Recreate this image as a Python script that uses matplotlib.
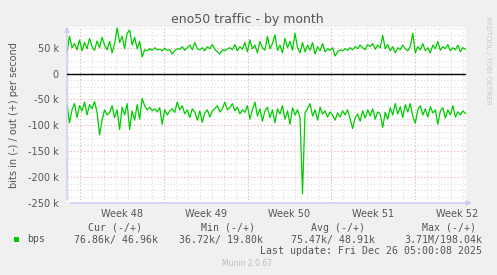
"""Munin style traffic graph: eno50 traffic - by month."""

import matplotlib

matplotlib.use("Agg")
import matplotlib.pyplot as plt
import numpy as np

OUT = "out.png"

# days relative to Monday of week 48
T_START, T_END = -1.09, 32.25

# out (+) in kbit/s, one sample every ~5 h
BPS_OUT = [
    42, 72, 50, 58, 46, 65, 44, 60, 48, 68, 52, 45, 63, 50, 70, 55, 46, 62, 40, 58,
    88, 60, 72, 48, 78, 84, 55, 70, 48, 62, 32, 46, 44, 48, 45, 50, 46, 47, 44, 49,
    45, 46, 38, 44, 48, 47, 52, 45, 50, 55, 46, 60, 48, 46, 50, 44, 52, 48, 56, 47,
    42, 38, 46, 44, 48, 50, 46, 56, 44, 52, 47, 60, 42, 65, 48, 55, 40, 62, 50, 45,
    72, 48, 58, 75, 45, 55, 40, 68, 50, 62, 45, 78, 50, 40, 60, 42, 55, 45, 60, 38,
    52, 44, 58, 42, 48, 45, 50, 34, 42, 46, 44, 48, 45, 50, 46, 52, 48, 55, 50, 46,
    56, 52, 58, 47, 55, 50, 74, 48, 56, 44, 52, 40, 50, 46, 55, 48, 44, 52, 78, 40,
    52, 46, 58, 44, 50, 40, 55, 48, 62, 45, 52, 48, 56, 44, 50, 46, 55, 42, 50, 47,
]

# in (-) in kbit/s
BPS_IN = [
    -60, -95, -70, -58, -85, -62, -72, -55, -80, -60, -68, -54, -75, -118, -90, -70,
    -80, -75, -62, -85, -70, -108, -65, -80, -58, -108, -72, -90, -60, -88, -48, -62,
    -70, -65, -72, -68, -74, -66, -98, -70, -80, -72, -68, -75, -55, -70, -62, -78,
    -70, -85, -68, -74, -90, -72, -94, -76, -70, -84, -72, -68, -62, -74, -68, -55,
    -70, -66, -58, -72, -65, -78, -70, -75, -62, -88, -70, -55, -82, -68, -92, -72,
    -65, -85, -70, -95, -68, -78, -62, -88, -72, -98, -66, -80, -70, -85, -232, -75,
    -68, -58, -82, -70, -90, -65, -78, -72, -84, -74, -80, -90, -76, -84, -72, -80,
    -70, -88, -106, -85, -78, -92, -72, -86, -70, -82, -68, -88, -74, -78, -104, -75,
    -88, -66, -80, -58, -78, -64, -85, -60, -74, -58, -82, -96, -70, -62, -80, -68,
    -84, -64, -76, -70, -98, -72, -66, -86, -70, -80, -62, -84, -74, -80, -72, -77,
]

WEEKS = ["Week 48", "Week 49", "Week 50", "Week 51", "Week 52"]
Y_TICKS = [50, 0, -50, -100, -150, -200, -250]
Y_LABELS = ["50 k", "0", "-50 k", "-100 k", "-150 k", "-200 k", "-250 k"]

GREEN = "#00CC00"
BG = "#F0F0F0"
TXT = "#555555"
AXIS = "#C8CCF2"
MINOR = "#DCDCDC"
MAJOR = "#E8A8A8"


def main():
    fig = plt.figure(figsize=(4.97, 2.75), dpi=100, facecolor=BG)
    W, H = 497.0, 275.0
    ax = fig.add_axes([67 / W, 1 - 203 / H, (466 - 67) / W, (203 - 27) / H])
    ax.set_facecolor("white")
    ax.set_xlim(T_START, T_END)
    ax.set_ylim(-250, 90)
    for s in ax.spines.values():
        s.set_visible(False)

    # grid
    for d in np.arange(-1, 33):
        major = d % 7 == 0
        ax.axvline(d, color=MAJOR if major else MINOR, lw=0.8,
                   ls=(0, (1, 2)), zorder=1)
    for v in np.arange(-237.5, 90, 12.5):
        major = v % 50 == 0
        ax.axhline(v, color=MAJOR if major else MINOR, lw=0.8,
                   ls=(0, (1, 2)), zorder=1)

    t = np.linspace(T_START, T_END - 0.05, len(BPS_OUT))
    ax.plot(t, BPS_OUT, color=GREEN, lw=0.9, zorder=3)
    ax.plot(t, BPS_IN, color=GREEN, lw=0.9, zorder=3)
    ax.axhline(0, color="black", lw=1.0, zorder=4)

    ax.set_xticks([3.5 + 7 * i for i in range(len(WEEKS))])
    ax.set_xticklabels(WEEKS)
    ax.set_yticks(Y_TICKS)
    ax.set_yticklabels(Y_LABELS)
    ax.tick_params(axis="both", length=0, labelsize=7, labelcolor=TXT, pad=4)
    ax.tick_params(axis="y", pad=6)

    # axis lines with arrows
    ax.annotate("", xy=(T_START, 96), xytext=(T_START, -250), xycoords="data",
                arrowprops=dict(arrowstyle="-|>", color=AXIS, lw=1.0,
                                mutation_scale=7), annotation_clip=False)
    ax.annotate("", xy=(T_END + 0.7, -250), xytext=(T_START, -250),
                xycoords="data",
                arrowprops=dict(arrowstyle="-|>", color=AXIS, lw=1.0,
                                mutation_scale=7), annotation_clip=False)

    ax.set_ylabel("bits in (-) / out (+) per second", fontsize=7, color=TXT,
                  labelpad=6)

    fig.text(247 / W, 1 - 20 / H, "eno50 traffic - by month", ha="center",
             va="center", fontsize=9, color=TXT)
    fig.text(488 / W, 1 - 60 / H, "RRDTOOL / TOBI OETIKER", rotation=270,
             ha="center", va="center", fontsize=5, color="#C8C8C8")

    mono = dict(family="DejaVu Sans Mono", fontsize=7.1, color=TXT,
                va="center")
    fig.patches.append(plt.Rectangle((14 / W, 1 - 242 / H), 5 / W, 5 / H,
                                     transform=fig.transFigure,
                                     facecolor=GREEN, edgecolor="none"))
    fig.text(27 / W, 1 - 239.5 / H, "bps", ha="left", **mono)
    heads = [("Cur (-/+)", 142), ("Min (-/+)", 255), ("Avg (-/+)", 365),
             ("Max (-/+)", 476)]
    vals = [("76.86k/ 46.96k", 158), ("36.72k/ 19.80k", 263),
            ("75.47k/ 48.91k", 375), ("3.71M/198.04k", 482)]
    for txt, xr in heads:
        fig.text(xr / W, 1 - 228 / H, txt, ha="right", **mono)
    for txt, xr in vals:
        fig.text(xr / W, 1 - 239.5 / H, txt, ha="right", **mono)
    fig.text(482 / W, 1 - 251 / H, "Last update: Fri Dec 26 05:00:08 2025",
             ha="right", **mono)
    fig.text(247 / W, 1 - 264 / H, "Munin 2.0.67", ha="center", va="center",
             fontsize=5.5, color="#BBBBBB")

    fig.savefig(OUT, dpi=100, facecolor=BG)
    plt.close(fig)


if __name__ == "__main__":
    main()
